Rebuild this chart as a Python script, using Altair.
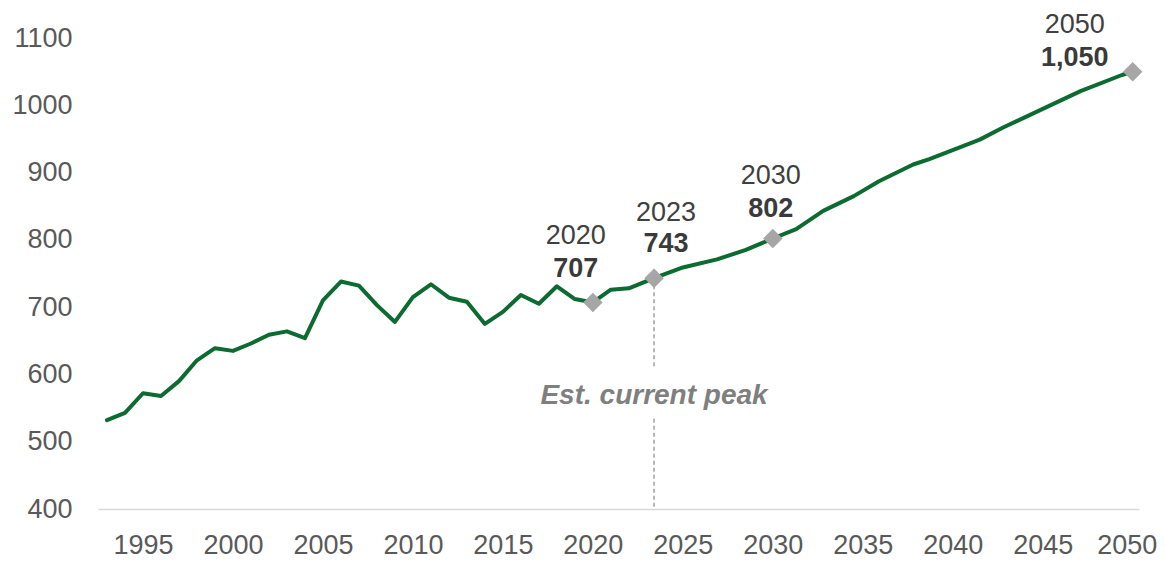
import altair as alt
import pandas as pd

# ---- data ----
years = [1993, 1994, 1995, 1996, 1997, 1998, 1999, 2000, 2001, 2002, 2003, 2004,
         2005, 2006, 2007, 2008, 2009, 2010, 2011, 2012, 2013, 2014, 2015, 2016,
         2017, 2018, 2019, 2020, 2021, 2022, 2023.4, 2025.0, 2026.9, 2028.5, 2030,
         2031.3, 2032.8, 2034.5, 2035.9, 2037.8, 2038.7, 2041.5, 2042.8, 2047.1,
         2049.4, 2050]
values = [532, 543, 572, 568, 590, 621, 639, 635, 646, 659, 664, 654,
          710, 738, 732, 703, 678, 715, 734, 714, 708, 675, 693, 718,
          705, 731, 712, 707, 726, 728, 743, 759, 771, 785, 802,
          816, 843, 865, 887, 912, 920, 949, 967, 1021,
          1045, 1050]

marker_years = [2020, 2023.4, 2030, 2050]
marker_values = [707, 743, 802, 1050]
marker_year_labels = ["2020", "2023", "2030", "2050"]
marker_value_labels = ["707", "743", "802", "1,050"]

x_ticks = [1995, 2000, 2005, 2010, 2015, 2020, 2025, 2030, 2035, 2040, 2045, 2050]
y_ticks = [400, 500, 600, 700, 800, 900, 1000, 1100]

peak_year = 2023.4
peak_rule_top = [743, 534]
peak_rule_bottom = [610, 400]
peak_label = "Est. current peak"
peak_label_value = 568

FONT = "Liberation Sans"

line_df = pd.DataFrame({"year": years, "value": values})
mk_df = pd.DataFrame({"year": marker_years, "value": marker_values,
                      "ylab": marker_year_labels, "vlab": marker_value_labels})
rule_df = pd.DataFrame({"year": [peak_year, peak_year],
                        "y1": peak_rule_top, "y2": peak_rule_bottom})
peak_df = pd.DataFrame({"year": [peak_year], "value": [peak_label_value], "txt": [peak_label]})

xscale = alt.Scale(domain=[1992.5, 2050.35], nice=False, zero=False)
yscale = alt.Scale(domain=[400, 1100], nice=False, zero=False)

x_enc = alt.X("year:Q", scale=xscale,
              axis=alt.Axis(values=x_ticks, format="d", title=None, grid=False,
                            ticks=False, tickSize=0, domainColor="#d9d9d9", domainWidth=1.5,
                            labelFont=FONT, labelFontSize=27, labelColor="#595959",
                            labelPadding=23, labelOverlap=False, labelFlush=False,
                            labelOffset={"condition": {"test": "datum.value == 2050", "value": -6},
                                         "value": 0}))
y_enc = alt.Y("value:Q", scale=yscale,
              axis=alt.Axis(values=y_ticks, format="d", title=None, grid=False, ticks=False,
                            tickSize=0, domain=False, labelFont=FONT, labelFontSize=27,
                            labelColor="#595959", labelPadding=26, labelOverlap=False,
                            labelFlush=False))

rules = alt.Chart(rule_df).mark_rule(color="#a0a0a0", strokeWidth=1.5,
                                     strokeDash=[4, 3]).encode(
    x=alt.X("year:Q", scale=xscale),
    y=alt.Y("y1:Q", scale=yscale),
    y2="y2:Q")

peak_text = alt.Chart(peak_df).mark_text(font=FONT, fontSize=28, fontWeight="bold",
                                         fontStyle="italic", color="#7f7f7f",
                                         baseline="middle", align="center").encode(
    x=alt.X("year:Q", scale=xscale), y=alt.Y("value:Q", scale=yscale), text="txt:N")

line = alt.Chart(line_df).mark_line(color="#0b6b30", strokeWidth=4,
                                    strokeJoin="round", strokeCap="round").encode(
    x=x_enc, y=y_enc)

markers = alt.Chart(mk_df).mark_point(shape="diamond", size=380, filled=True,
                                      color="#a6a6a6", opacity=1).encode(
    x=alt.X("year:Q", scale=xscale), y=alt.Y("value:Q", scale=yscale))

offsets = [(-17, -66, -33), (12, -65, -34), (-2, -63, -30), (-58, -47, -14)]
label_layers = []
for i, (dx, dy1, dy2) in enumerate(offsets):
    sub = mk_df.iloc[[i]]
    label_layers.append(
        alt.Chart(sub).mark_text(font=FONT, fontSize=27, color="#404040",
                                 baseline="middle", align="center", dx=dx, dy=dy1).encode(
            x=alt.X("year:Q", scale=xscale), y=alt.Y("value:Q", scale=yscale), text="ylab:N"))
    label_layers.append(
        alt.Chart(sub).mark_text(font=FONT, fontSize=27, fontWeight="bold", color="#3a3a3a",
                                 baseline="middle", align="center", dx=dx, dy=dy2).encode(
            x=alt.X("year:Q", scale=xscale), y=alt.Y("value:Q", scale=yscale), text="vlab:N"))

chart = alt.layer(line, rules, peak_text, markers, *label_layers).properties(
    width=1041, height=471,
    background="white",
    autosize=alt.AutoSizeParams(type="none"),
    padding={"left": 90, "top": 30, "right": 18, "bottom": 52},
).configure_view(strokeWidth=0, stroke="transparent")

chart.save("out.html", embed_options={"renderer": "svg", "actions": False})
